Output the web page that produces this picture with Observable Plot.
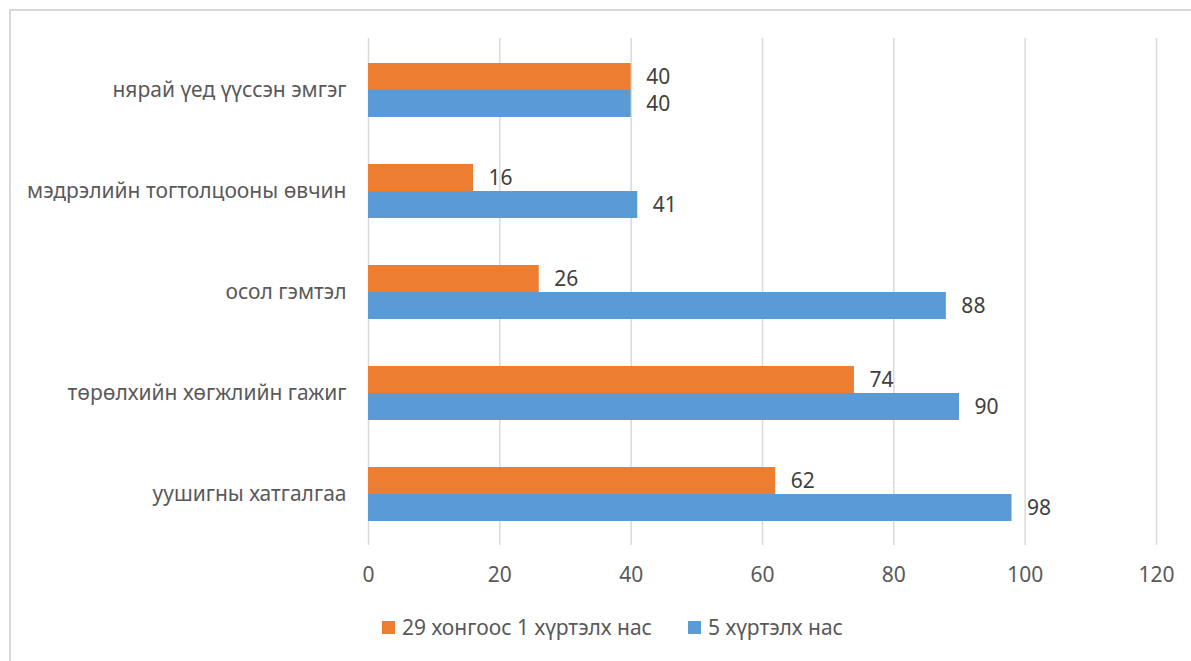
<!DOCTYPE html>
<html>
<head>
<meta charset="utf-8">
<script src="https://cdn.jsdelivr.net/npm/d3@7"></script>
<script src="https://cdn.jsdelivr.net/npm/@observablehq/plot@0.6"></script>
<style>
  html, body { margin: 0; padding: 0; background: #fff; }
  body { width: 1191px; height: 661px; overflow: hidden; position: relative; font-family: "Noto Sans", sans-serif; }
  #frame { position: absolute; left: 9px; top: 9px; width: 1200px; height: 700px; border: 2px solid #d9d9d9; box-sizing: border-box; }
  .layer { position: absolute; left: 0; top: 0; }
  #legend { position: absolute; left: 17px; top: 613px; width: 1191px; display: flex; justify-content: center; gap: 36px; font-size: 21px; color: #595959; }
  .item { display: flex; align-items: center; gap: 7px; }
  .sw { width: 13px; height: 13px; display: inline-block; }
</style>
</head>
<body>
<div id="frame"></div>
<div id="grid" class="layer"></div>
<div id="chart" class="layer"></div>
<div id="legend"></div>
<script>
const categories = [
  "нярай үед үүссэн эмгэг",
  "мэдрэлийн тогтолцооны өвчин",
  "осол гэмтэл",
  "төрөлхийн хөгжлийн гажиг",
  "уушигны хатгалгаа"
];
const series = ["29 хонгоос 1 хүртэлх нас", "5 хүртэлх нас"];
const valuesInfant = [40, 16, 26, 74, 62];
const valuesUnder5 = [40, 41, 88, 90, 98];
const colors = ["#ED7D31", "#5B9BD5"];
const xTicks = [0, 20, 40, 60, 80, 100, 120];

const data = [];
categories.forEach((c, i) => {
  data.push({category: c, series: series[0], value: valuesInfant[i]});
  data.push({category: c, series: series[1], value: valuesUnder5[i]});
});

const common = {
  width: 1191,
  height: 600,
  marginLeft: 368,
  marginRight: 35,
  marginTop: 38,
  marginBottom: 55,
  style: {fontFamily: "Noto Sans, sans-serif", fontSize: "21px", color: "#595959", background: "transparent", overflow: "visible"}
};

const gridPlot = Plot.plot({
  ...common,
  x: {domain: [0, 120], ticks: xTicks},
  marks: [
    Plot.ruleX(xTicks, {x: d => d, stroke: "#d9d9d9", strokeWidth: 1.5}),
    Plot.axisX(xTicks, {anchor: "bottom", tickSize: 0, tickPadding: 22, fill: "#595959", fontSize: 21, label: null})
  ]
});
document.getElementById("grid").appendChild(gridPlot);

const plot = Plot.plot({
  ...common,
  x: {domain: [0, 120], axis: null},
  y: {domain: series, axis: null, padding: 0},
  fy: {domain: categories, paddingInner: 0.47, paddingOuter: 0.235},
  color: {domain: series, range: colors},
  marks: [
    Plot.axisFy({anchor: "left", tickSize: 0, tickPadding: 22, fill: "#595959", fontSize: 21, label: null}),
    Plot.barX(data, {x: "value", y: "series", fy: "category", fill: "series"}),
    Plot.text(data, {x: "value", y: "series", fy: "category", text: d => String(d.value), textAnchor: "start", dx: 15, fill: "#404040", fontSize: 21})
  ]
});
document.getElementById("chart").appendChild(plot);

const legend = document.getElementById("legend");
series.forEach((s, i) => {
  const item = document.createElement("div");
  item.className = "item";
  const sw = document.createElement("span");
  sw.className = "sw";
  sw.style.background = colors[i];
  const t = document.createElement("span");
  t.textContent = s;
  item.appendChild(sw);
  item.appendChild(t);
  legend.appendChild(item);
});
</script>
</body>
</html>
